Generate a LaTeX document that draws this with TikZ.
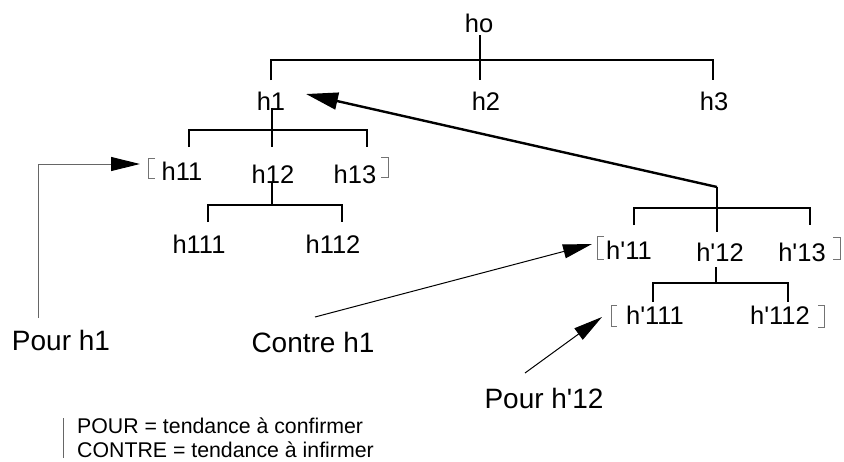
\documentclass[tikz,border=0pt]{standalone}
\usepackage{fontspec}
\newfontfamily\af{Liberation Sans}
\usetikzlibrary{arrows.meta}
\begin{document}
\begin{tikzpicture}[x=1pt,y=-1pt,
  lbl/.style={font=\af\fontsize{25.5}{29}\selectfont, anchor=base, inner sep=0pt},
  big/.style={font=\af\fontsize{28}{32}\selectfont, anchor=base, inner sep=0pt},
  leg/.style={font=\af\fontsize{21.3}{24}\selectfont, anchor=base west, inner sep=0pt},
  tree/.style={line width=2.4pt, line cap=butt},
  brk/.style={draw=black!55, line width=1pt},
  heavy/.style={line width=2.4pt, -{Triangle[length=32pt,width=17pt]}},
  thin/.style={line width=1pt, -{Triangle[length=29pt,width=14pt,color=black]}}]
\useasboundingbox (0,0) rectangle (844,461);
% labels
\node[lbl] (ho) at (479,32) {ho};
\node[lbl] (h1) at (271,110) {h1};
\node[lbl] (h2) at (486,110) {h2};
\node[lbl] (h3) at (714,110) {h3};
\node[lbl] (h11) at (182,180) {h11};
\node[lbl] (h12) at (273,183) {h12};
\node[lbl] (h13) at (355,183) {h13};
\node[lbl] (h111) at (199,253) {h111};
\node[lbl] (h112) at (333,253) {h112};
\node[lbl] (hp11) at (629,259) {h'11};
\node[lbl] (hp12) at (720,261) {h'12};
\node[lbl] (hp13) at (802,261) {h'13};
\node[lbl] (hp111) at (655,324) {h'111};
\node[lbl] (hp112) at (780,324) {h'112};
\node[big] (pour1) at (61,350) {Pour h1};
\node[big] (contre1) at (313,352) {Contre h1};
\node[big] (pour12) at (544,408) {Pour h'12};
\node[leg] (leg1) at (77,433) {POUR = tendance à confirmer};
\node[leg] (leg2) at (77,457) {CONTRE = tendance à infirmer};
% junction coordinates
\coordinate (hotop) at (480,35);
\coordinate (hobot) at (480,80);
\coordinate (h1top) at (271,80);
\coordinate (h3top) at (713,80);
\coordinate (h1a) at (272,108);
\coordinate (h1b) at (272,147);
\coordinate (h11top) at (189,147);
\coordinate (h13top) at (367,147);
\coordinate (h12a) at (272,182);
\coordinate (h12b) at (272,205);
\coordinate (h111top) at (208,222);
\coordinate (h112top) at (342,222);
\coordinate (hp) at (717,187);
\coordinate (hpb) at (717,232);
\coordinate (hp11top) at (634,225);
\coordinate (hp13top) at (810,225);
\coordinate (hp12a) at (716,267);
\coordinate (hp12b) at (716,283);
\coordinate (hp111top) at (653,302);
\coordinate (hp112top) at (788,302);
% tree
\draw[tree] (hotop) -- (hobot);
\draw[tree] (h1top) |- (480,60) -| (h3top);
\draw[tree] (h1a) -- (h1b);
\draw[tree] (h11top) |- (272,130) -| (h13top);
\draw[tree] (h12a) -- (h12b);
\draw[tree] (h111top) |- (h12b) -| (h112top);
\draw[tree] (hp) -- (hpb);
\draw[tree] (hp11top) |- (717,208) -| (hp13top);
\draw[tree] (hp12a) -- (hp12b);
\draw[tree] (hp111top) |- (hp12b) -| (hp112top);
% brackets
\draw[brk] (155,158) -- (148,158) -- (148,178) -- (155,178);
\draw[brk] (381,157) -- (388,157) -- (388,177) -- (381,177);
\draw[brk] (604,236) -- (597,236) -- (597,259) -- (604,259);
\draw[brk] (833,237) -- (840,237) -- (840,259) -- (833,259);
\draw[brk] (617,305) -- (611,305) -- (611,326) -- (617,326);
\draw[brk] (818,305) -- (824,305) -- (824,327) -- (818,327);
% arrows
\coordinate (h1tip) at (306,94);
\draw[heavy] (hp) -- (h1tip);
\coordinate (p1a) at (38,318);
\coordinate (p1tip) at (140,164);
\draw[thin, draw=black!60] (p1a) |- (p1tip);
\coordinate (c1a) at (315,317);
\coordinate (c1tip) at (592,244);
\draw[thin] (c1a) -- (c1tip);
\coordinate (p12a) at (525,373);
\coordinate (p12tip) at (602,317);
\draw[thin] (p12a) -- (p12tip);
% legend bar
\draw[draw=black!60, line width=0.8pt] (63,418) -- (63,458);
\end{tikzpicture}
\end{document}
